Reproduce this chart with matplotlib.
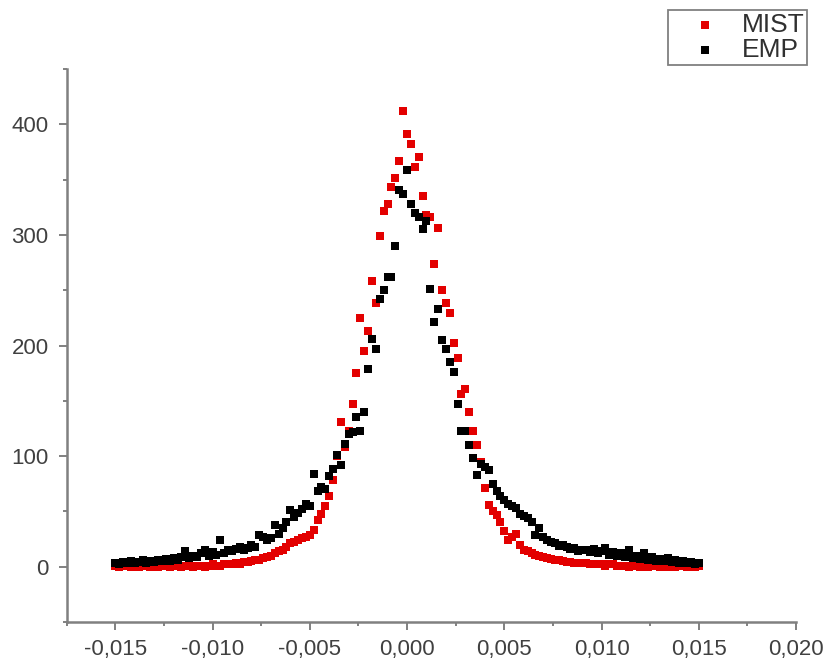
import numpy as np
import matplotlib.pyplot as plt
from matplotlib.ticker import MultipleLocator

# histogram bin centres (step 0.0002)
x = np.linspace(-0.015, 0.015, 151)

# MIST counts (red)
mist = [1, 0, 1, 1, 0, 1, 0, 1, 1, 0,
        1, 0, 1, 1, 0, 1, 1, 0, 1, 1,
        0, 1, 1, 0, 1, 2, 1, 1, 2, 2,
        2, 3, 2, 4, 4, 5, 6, 6, 8, 9,
        10, 12, 14, 15, 18, 21, 22, 24, 26, 27,
        29, 33, 42, 48, 55, 64, 78, 100, 131, 108,
        123, 147, 175, 225, 195, 213, 258, 238, 299, 322,
        328, 343, 351, 367, 412, 391, 382, 361, 370, 335,
        318, 316, 274, 306, 250, 238, 229, 202, 189, 156,
        161, 140, 123, 110, 95, 71, 56, 50, 47, 40,
        32, 24, 27, 30, 20, 15, 14, 12, 11, 10,
        9, 8, 7, 6, 6, 5, 4, 4, 3, 3,
        3, 3, 2, 2, 2, 2, 1, 2, 2, 1,
        1, 1, 0, 1, 1, 0, 1, 0, 1, 1,
        0, 1, 0, 1, 0, 1, 1, 0, 1, 0,
        1]

# EMP counts (black)
emp = [3, 2, 4, 3, 5, 3, 4, 6, 3, 5,
       4, 6, 5, 7, 5, 8, 6, 9, 14, 8,
       10, 9, 12, 15, 10, 13, 11, 24, 12, 15,
       14, 16, 18, 15, 17, 20, 18, 29, 27, 24,
       26, 38, 30, 35, 40, 51, 45, 49, 52, 57,
       55, 84, 68, 72, 70, 82, 88, 101, 92, 111,
       120, 122, 135, 123, 140, 179, 206, 197, 242, 250,
       262, 262, 290, 341, 337, 359, 328, 320, 316, 305,
       313, 251, 221, 233, 205, 197, 185, 176, 147, 123,
       123, 110, 98, 83, 93, 90, 87, 75, 68, 64,
       60, 57, 55, 53, 48, 46, 44, 40, 29, 35,
       27, 24, 22, 21, 19, 20, 18, 16, 17, 14,
       15, 15, 13, 16, 12, 14, 17, 11, 13, 10,
       12, 9, 15, 8, 10, 7, 12, 6, 9, 5,
       7, 5, 8, 4, 6, 3, 5, 3, 4, 2,
       3]

xticks = [-0.015, -0.010, -0.005, 0.0, 0.005, 0.010, 0.015, 0.020]
xtick_labels = ['-0,015', '-0,010', '-0,005', '0,000', '0,005', '0,010', '0,015', '0,020']
yticks = [0, 100, 200, 300, 400]

plt.rcParams['font.family'] = ['Liberation Sans', 'DejaVu Sans']

fig = plt.figure(figsize=(8.29, 6.65), dpi=100)
ax = fig.add_axes([66.7 / 829, 1 - 622 / 665, (796 - 66.7) / 829, (622 - 69) / 665])

ax.scatter(x, mist, marker='s', s=36, color='#e30000', linewidths=0, label='MIST', zorder=3)
ax.scatter(x, emp, marker='s', s=36, color='#000000', linewidths=0, label='EMP', zorder=4)

ax.set_xlim(-0.0175, 0.020)
ax.set_ylim(-50, 450)
ax.set_xticks(xticks)
ax.set_xticklabels(xtick_labels)
ax.set_yticks(yticks)
ax.xaxis.set_minor_locator(MultipleLocator(0.0025))
ax.yaxis.set_minor_locator(MultipleLocator(50))

spine_col = '#808080'
for side in ['top', 'right']:
    ax.spines[side].set_visible(False)
for side in ['left', 'bottom']:
    ax.spines[side].set_color(spine_col)
    ax.spines[side].set_linewidth(1.8)

ax.tick_params(which='major', direction='out', length=6, width=1.4, color=spine_col,
               labelsize=16, labelcolor='#404040')
ax.tick_params(which='minor', direction='out', length=3, width=1.4, color=spine_col)
ax.tick_params(axis='y', which='major', pad=7)
ax.tick_params(axis='x', which='major', pad=6)

leg = ax.legend(loc='upper right', bbox_to_anchor=(807 / 829, 1 - 10 / 665),
                bbox_transform=fig.transFigure, fontsize=19, scatterpoints=1,
                borderpad=0.1, labelspacing=0.05, handlelength=2.6, handletextpad=0.1,
                borderaxespad=0, fancybox=False, framealpha=1)
leg.get_frame().set_edgecolor(spine_col)
leg.get_frame().set_linewidth(1.3)
for t in leg.get_texts():
    t.set_color('#303030')

fig.savefig('out.png', dpi=100)
